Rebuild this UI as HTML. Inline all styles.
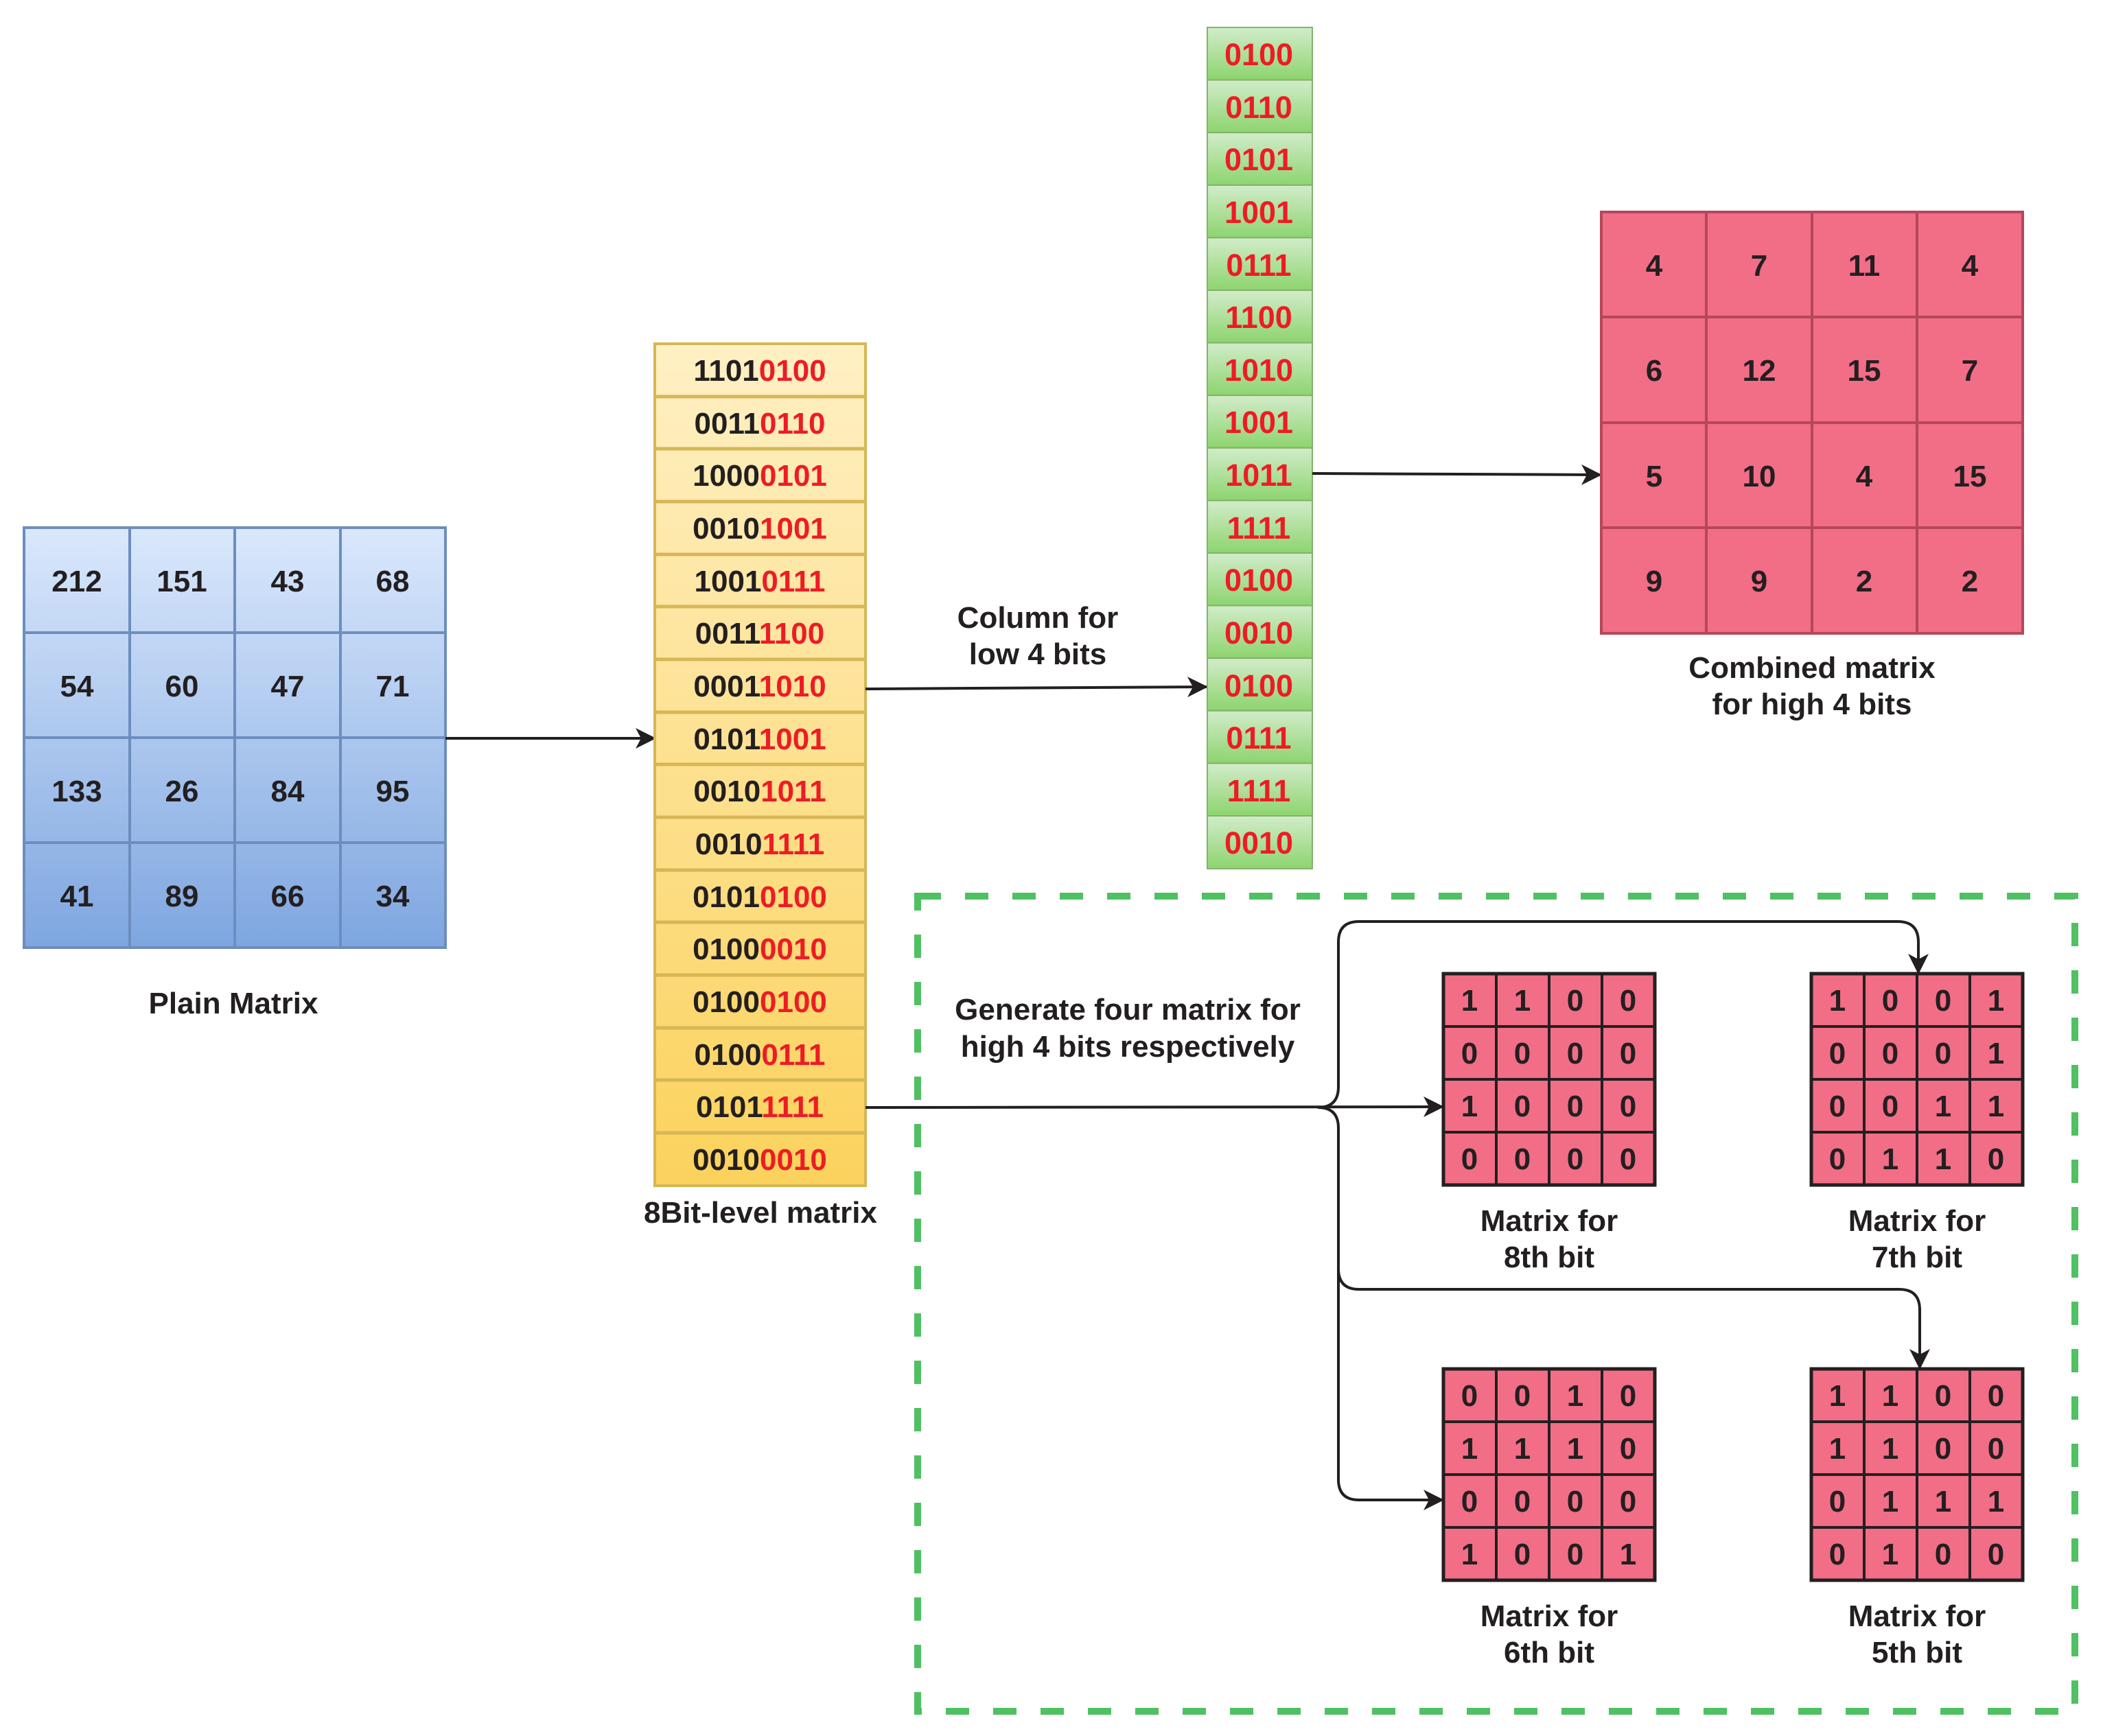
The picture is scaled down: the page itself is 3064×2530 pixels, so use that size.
<!DOCTYPE html>
<html><head><meta charset="utf-8"><style>
html,body{margin:0;padding:0;background:#fff}
svg{display:block}
text{font-family:"Liberation Sans",sans-serif;font-weight:bold;fill:#231f20}
g.red text{fill:#ed1c24}
</style></head><body>
<svg width="3064" height="2530" viewBox="0 0 3064 2530" xmlns="http://www.w3.org/2000/svg">
<defs>
<linearGradient id="gb" x1="0" y1="0" x2="0" y2="1"><stop offset="0" stop-color="#dae8fc"/><stop offset="1" stop-color="#7ea6e0"/></linearGradient>
<linearGradient id="gy" x1="0" y1="0" x2="0" y2="1"><stop offset="0" stop-color="#fff0c4"/><stop offset="1" stop-color="#fbd25c"/></linearGradient>
<linearGradient id="gg" x1="0" y1="0" x2="0" y2="1"><stop offset="0" stop-color="#d2ecca"/><stop offset="1" stop-color="#8dd46f"/></linearGradient>
<marker id="ah2" markerWidth="30" markerHeight="30" refX="28" refY="15" orient="auto" markerUnits="userSpaceOnUse"><path d="M0,0 L30,15 L0,30 L8,15 Z" fill="#231f20"/></marker>
</defs>

<!-- Plain matrix -->
<rect x="35" y="769" width="614" height="612" fill="url(#gb)" stroke="#6c8ebf" stroke-width="4"/>
<g stroke="#6c8ebf" stroke-width="4">
<line x1="189" y1="769" x2="189" y2="1381"/><line x1="342" y1="769" x2="342" y2="1381"/><line x1="496" y1="769" x2="496" y2="1381"/>
<line x1="35" y1="922" x2="649" y2="922"/><line x1="35" y1="1075" x2="649" y2="1075"/><line x1="35" y1="1228" x2="649" y2="1228"/>
</g>
<g font-size="44" text-anchor="middle">
<text x="112" y="862">212</text><text x="265" y="862">151</text><text x="419" y="862">43</text><text x="572" y="862">68</text>
<text x="112" y="1015">54</text><text x="265" y="1015">60</text><text x="419" y="1015">47</text><text x="572" y="1015">71</text>
<text x="112" y="1168">133</text><text x="265" y="1168">26</text><text x="419" y="1168">84</text><text x="572" y="1168">95</text>
<text x="112" y="1321">41</text><text x="265" y="1321">89</text><text x="419" y="1321">66</text><text x="572" y="1321">34</text>
<text x="340" y="1477">Plain Matrix</text>
</g>
<line x1="649" y1="1076" x2="954" y2="1076" stroke="#231f20" stroke-width="4" marker-end="url(#ah2)"/>

<!-- 8bit column -->
<rect x="954" y="501" width="307" height="1227" fill="url(#gy)" stroke="#d6b656" stroke-width="4"/>
<g stroke="#d6b656" stroke-width="5">
<line x1="954" y1="578" x2="1261" y2="578"/><line x1="954" y1="654" x2="1261" y2="654"/><line x1="954" y1="731" x2="1261" y2="731"/><line x1="954" y1="808" x2="1261" y2="808"/>
<line x1="954" y1="884" x2="1261" y2="884"/><line x1="954" y1="961" x2="1261" y2="961"/><line x1="954" y1="1038" x2="1261" y2="1038"/><line x1="954" y1="1114" x2="1261" y2="1114"/>
<line x1="954" y1="1191" x2="1261" y2="1191"/><line x1="954" y1="1268" x2="1261" y2="1268"/><line x1="954" y1="1344" x2="1261" y2="1344"/><line x1="954" y1="1421" x2="1261" y2="1421"/>
<line x1="954" y1="1498" x2="1261" y2="1498"/><line x1="954" y1="1574" x2="1261" y2="1574"/><line x1="954" y1="1651" x2="1261" y2="1651"/>
</g>
<g font-size="44" text-anchor="middle">
<text x="1107" y="555">1101<tspan fill="#ed1c24">0100</tspan></text>
<text x="1107" y="632">0011<tspan fill="#ed1c24">0110</tspan></text>
<text x="1107" y="708">1000<tspan fill="#ed1c24">0101</tspan></text>
<text x="1107" y="785">0010<tspan fill="#ed1c24">1001</tspan></text>
<text x="1107" y="862">1001<tspan fill="#ed1c24">0111</tspan></text>
<text x="1107" y="938">0011<tspan fill="#ed1c24">1100</tspan></text>
<text x="1107" y="1015">0001<tspan fill="#ed1c24">1010</tspan></text>
<text x="1107" y="1092">0101<tspan fill="#ed1c24">1001</tspan></text>
<text x="1107" y="1168">0010<tspan fill="#ed1c24">1011</tspan></text>
<text x="1107" y="1245">0010<tspan fill="#ed1c24">1111</tspan></text>
<text x="1107" y="1322">0101<tspan fill="#ed1c24">0100</tspan></text>
<text x="1107" y="1398">0100<tspan fill="#ed1c24">0010</tspan></text>
<text x="1107" y="1475">0100<tspan fill="#ed1c24">0100</tspan></text>
<text x="1107" y="1552">0100<tspan fill="#ed1c24">0111</tspan></text>
<text x="1107" y="1628">0101<tspan fill="#ed1c24">1111</tspan></text>
<text x="1107" y="1705">0010<tspan fill="#ed1c24">0010</tspan></text>
<text x="1108" y="1782">8Bit-level matrix</text>
<text x="1512" y="915">Column for</text>
<text x="1512" y="968">low 4 bits</text>
</g>
<line x1="1261" y1="1004" x2="1758" y2="1001" stroke="#231f20" stroke-width="4" marker-end="url(#ah2)"/>

<!-- Green column -->
<g stroke="#82b366" stroke-width="2" fill="url(#gg)">
<rect x="1759" y="40" width="153" height="76.6"/><rect x="1759" y="116.6" width="153" height="76.6"/><rect x="1759" y="193.2" width="153" height="76.6"/><rect x="1759" y="269.8" width="153" height="76.6"/>
<rect x="1759" y="346.4" width="153" height="76.6"/><rect x="1759" y="423" width="153" height="76.6"/><rect x="1759" y="499.6" width="153" height="76.6"/><rect x="1759" y="576.2" width="153" height="76.6"/>
<rect x="1759" y="652.8" width="153" height="76.6"/><rect x="1759" y="729.4" width="153" height="76.6"/><rect x="1759" y="806" width="153" height="76.6"/><rect x="1759" y="882.6" width="153" height="76.6"/>
<rect x="1759" y="959.2" width="153" height="76.6"/><rect x="1759" y="1035.8" width="153" height="76.6"/><rect x="1759" y="1112.4" width="153" height="76.6"/><rect x="1759" y="1189" width="153" height="77"/>
</g>
<g class="red" font-size="45" text-anchor="middle">
<text x="1834" y="95">0100</text><text x="1834" y="172">0110</text><text x="1834" y="248">0101</text><text x="1834" y="325">1001</text>
<text x="1834" y="402">0111</text><text x="1834" y="478">1100</text><text x="1834" y="555">1010</text><text x="1834" y="631">1001</text>
<text x="1834" y="708">1011</text><text x="1834" y="785">1111</text><text x="1834" y="861">0100</text><text x="1834" y="938">0010</text>
<text x="1834" y="1015">0100</text><text x="1834" y="1091">0111</text><text x="1834" y="1168">1111</text><text x="1834" y="1244">0010</text>
</g>
<line x1="1912" y1="690" x2="2332" y2="692" stroke="#231f20" stroke-width="4" marker-end="url(#ah2)"/>

<!-- Combined matrix -->
<rect x="2333" y="309" width="614" height="614" fill="#f26d86" stroke="#b5485a" stroke-width="4"/>
<g stroke="#b5485a" stroke-width="4">
<line x1="2486" y1="309" x2="2486" y2="923"/><line x1="2640" y1="309" x2="2640" y2="923"/><line x1="2793" y1="309" x2="2793" y2="923"/>
<line x1="2333" y1="462" x2="2947" y2="462"/><line x1="2333" y1="616" x2="2947" y2="616"/><line x1="2333" y1="769" x2="2947" y2="769"/>
</g>
<g font-size="44" text-anchor="middle">
<text x="2410" y="402">4</text><text x="2563" y="402">7</text><text x="2716" y="402">11</text><text x="2870" y="402">4</text>
<text x="2410" y="555">6</text><text x="2563" y="555">12</text><text x="2716" y="555">15</text><text x="2870" y="555">7</text>
<text x="2410" y="709">5</text><text x="2563" y="709">10</text><text x="2716" y="709">4</text><text x="2870" y="709">15</text>
<text x="2410" y="862">9</text><text x="2563" y="862">9</text><text x="2716" y="862">2</text><text x="2870" y="862">2</text>
<text x="2640" y="988">Combined matrix</text>
<text x="2640" y="1041">for high 4 bits</text>
</g>

<!-- Dashed box -->
<rect x="1337" y="1306" width="1686" height="1188" fill="none" stroke="#4fc162" stroke-width="10" stroke-dasharray="34 35"/>

<!-- connectors -->
<g fill="none" stroke="#231f20" stroke-width="4">
<line x1="1261" y1="1614" x2="2102" y2="1613" marker-end="url(#ah2)"/>
<path d="M1920,1614 Q1950,1614 1950,1584 L1950,1373 Q1950,1343 1980,1343 L2765,1343 Q2795,1343 2795,1373 L2795,1418" marker-end="url(#ah2)"/>
<path d="M1920,1614 Q1950,1614 1950,1644 L1950,1849 Q1950,1879 1980,1879 L2767,1879 Q2797,1879 2797,1909 L2797,1994" marker-end="url(#ah2)"/>
<path d="M1950,1849 L1950,2156 Q1950,2186 1980,2186 L2102,2186" marker-end="url(#ah2)"/>
</g>
<g font-size="44" text-anchor="middle">
<text x="1643" y="1486">Generate four matrix for</text>
<text x="1643" y="1540">high 4 bits respectively</text>
</g>

<!-- small matrices -->
<g font-size="44" text-anchor="middle">
<g transform="translate(2103,1419)">
<rect width="308" height="308" fill="#f26d86" stroke="#231f20" stroke-width="5"/>
<g stroke="#231f20" stroke-width="4"><line x1="77" y1="0" x2="77" y2="308"/><line x1="154" y1="0" x2="154" y2="308"/><line x1="231" y1="0" x2="231" y2="308"/><line x1="0" y1="77" x2="308" y2="77"/><line x1="0" y1="154" x2="308" y2="154"/><line x1="0" y1="231" x2="308" y2="231"/></g>
<text x="38" y="54">1</text><text x="115" y="54">1</text><text x="192" y="54">0</text><text x="269" y="54">0</text>
<text x="38" y="131">0</text><text x="115" y="131">0</text><text x="192" y="131">0</text><text x="269" y="131">0</text>
<text x="38" y="208">1</text><text x="115" y="208">0</text><text x="192" y="208">0</text><text x="269" y="208">0</text>
<text x="38" y="285">0</text><text x="115" y="285">0</text><text x="192" y="285">0</text><text x="269" y="285">0</text>
<text x="154" y="375">Matrix for</text><text x="154" y="428">8th bit</text>
</g>
<g transform="translate(2639,1419)">
<rect width="308" height="308" fill="#f26d86" stroke="#231f20" stroke-width="5"/>
<g stroke="#231f20" stroke-width="4"><line x1="77" y1="0" x2="77" y2="308"/><line x1="154" y1="0" x2="154" y2="308"/><line x1="231" y1="0" x2="231" y2="308"/><line x1="0" y1="77" x2="308" y2="77"/><line x1="0" y1="154" x2="308" y2="154"/><line x1="0" y1="231" x2="308" y2="231"/></g>
<text x="38" y="54">1</text><text x="115" y="54">0</text><text x="192" y="54">0</text><text x="269" y="54">1</text>
<text x="38" y="131">0</text><text x="115" y="131">0</text><text x="192" y="131">0</text><text x="269" y="131">1</text>
<text x="38" y="208">0</text><text x="115" y="208">0</text><text x="192" y="208">1</text><text x="269" y="208">1</text>
<text x="38" y="285">0</text><text x="115" y="285">1</text><text x="192" y="285">1</text><text x="269" y="285">0</text>
<text x="154" y="375">Matrix for</text><text x="154" y="428">7th bit</text>
</g>
<g transform="translate(2103,1995)">
<rect width="308" height="308" fill="#f26d86" stroke="#231f20" stroke-width="5"/>
<g stroke="#231f20" stroke-width="4"><line x1="77" y1="0" x2="77" y2="308"/><line x1="154" y1="0" x2="154" y2="308"/><line x1="231" y1="0" x2="231" y2="308"/><line x1="0" y1="77" x2="308" y2="77"/><line x1="0" y1="154" x2="308" y2="154"/><line x1="0" y1="231" x2="308" y2="231"/></g>
<text x="38" y="54">0</text><text x="115" y="54">0</text><text x="192" y="54">1</text><text x="269" y="54">0</text>
<text x="38" y="131">1</text><text x="115" y="131">1</text><text x="192" y="131">1</text><text x="269" y="131">0</text>
<text x="38" y="208">0</text><text x="115" y="208">0</text><text x="192" y="208">0</text><text x="269" y="208">0</text>
<text x="38" y="285">1</text><text x="115" y="285">0</text><text x="192" y="285">0</text><text x="269" y="285">1</text>
<text x="154" y="375">Matrix for</text><text x="154" y="428">6th bit</text>
</g>
<g transform="translate(2639,1995)">
<rect width="308" height="308" fill="#f26d86" stroke="#231f20" stroke-width="5"/>
<g stroke="#231f20" stroke-width="4"><line x1="77" y1="0" x2="77" y2="308"/><line x1="154" y1="0" x2="154" y2="308"/><line x1="231" y1="0" x2="231" y2="308"/><line x1="0" y1="77" x2="308" y2="77"/><line x1="0" y1="154" x2="308" y2="154"/><line x1="0" y1="231" x2="308" y2="231"/></g>
<text x="38" y="54">1</text><text x="115" y="54">1</text><text x="192" y="54">0</text><text x="269" y="54">0</text>
<text x="38" y="131">1</text><text x="115" y="131">1</text><text x="192" y="131">0</text><text x="269" y="131">0</text>
<text x="38" y="208">0</text><text x="115" y="208">1</text><text x="192" y="208">1</text><text x="269" y="208">1</text>
<text x="38" y="285">0</text><text x="115" y="285">1</text><text x="192" y="285">0</text><text x="269" y="285">0</text>
<text x="154" y="375">Matrix for</text><text x="154" y="428">5th bit</text>
</g>
</g>
</svg>
</body></html>
